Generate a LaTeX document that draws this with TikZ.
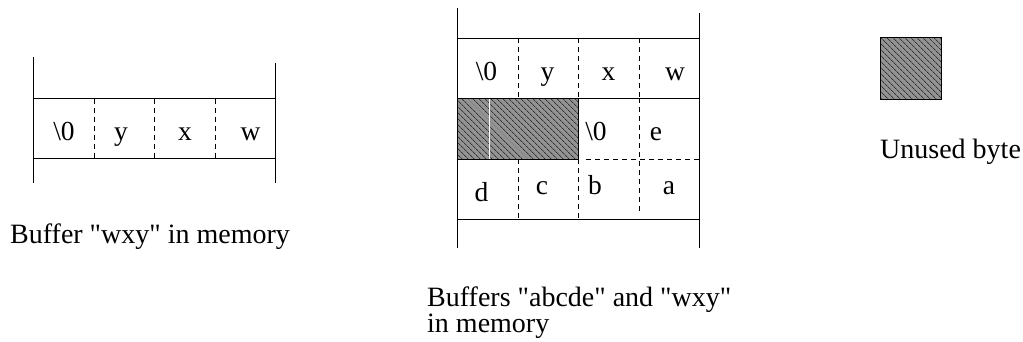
\documentclass[tikz,border=0pt]{standalone}
\usepackage{fontspec}
\setmainfont{Liberation Serif}
\usetikzlibrary{patterns.meta}
\newcommand{\qt}{\textquotedbl}
\begin{document}
\begin{tikzpicture}[x=1pt,y=-1pt,
  wall/.style={line width=0.8pt},
  sep/.style={line width=0.7pt, dash pattern=on 5pt off 4pt},
  cell/.style={font=\fontsize{27.5}{27.5}\selectfont, inner sep=0pt, anchor=base},
  caption/.style={font=\fontsize{28}{26}\selectfont, inner sep=0pt, anchor=base west, align=left},
  unused/.style={fill=gray!85, draw=black, line width=0.6pt,
    postaction={pattern={Lines[angle=-45,distance=4pt,line width=0.6pt]}}}]
\useasboundingbox (0,0) rectangle (1023,342);

% single buffer "wxy"
\draw[wall] (33.5,57) -- (33.5,183);
\draw[wall] (275.5,63) -- (275.5,183);
\draw[wall] (33.5,98.7) -- (275.5,98.7);
\draw[wall] (33.5,158.7) -- (275.5,158.7);
\draw[sep] (94.3,98.7) -- (94.3,158.7);
\draw[sep] (154.7,98.7) -- (154.7,158.7);
\draw[sep] (215,98.7) -- (215,158.7);
\node[cell] (la) at (64,140.5) {\textbackslash 0};
\node[cell] (lb) at (121,140.5) {y};
\node[cell] (lc) at (185,140.5) {x};
\node[cell] (ld) at (250.5,140.5) {w};
\node[caption] (lcap) at (10,243) {Buffer \qt wxy\qt\ in memory};

% two buffers "abcde" and "wxy"
\draw[unused] (457.3,98.3) rectangle (578.3,159);
\draw[white, line width=0.8pt] (489.3,98.3) -- (489.3,159);
\draw[wall] (457.3,8) -- (457.3,248);
\draw[wall] (699,13) -- (699,248);
\draw[wall] (457.3,38.3) -- (699,38.3);
\draw[wall] (457.3,98.3) -- (699,98.3);
\draw[wall] (457.3,219.3) -- (699,219.3);
\draw[sep] (518,38.3) -- (518,98.3);
\draw[sep] (578.3,38.3) -- (578.3,98.3);
\draw[sep] (639,38.3) -- (639,98.3);
\draw[sep] (639,98.3) -- (639,212);
\draw[sep] (586,159) -- (699,159);
\draw[sep] (518,159) -- (518,219.3);
\draw[sep] (578.3,159) -- (578.3,219.3);
\node[cell] (ra) at (486.5,81) {\textbackslash 0};
\node[cell] (rb) at (547.5,81) {y};
\node[cell] (rc) at (608.5,81) {x};
\node[cell] (rd) at (675,81) {w};
\node[cell] (re) at (596,140.5) {\textbackslash 0};
\node[cell] (rf) at (656,140.5) {e};
\node[cell] (rg) at (481.5,201.5) {d};
\node[cell] (rh) at (542,194) {c};
\node[cell] (ri) at (595,194) {b};
\node[cell] (rj) at (669,194.5) {a};
% the base anchor of this two-line node sits on its last line
\node[caption] (rcap) at (427,332) {Buffers \qt abcde\qt\ and \qt wxy\qt\\in memory};

% legend
\draw[unused] (880.7,37.7) rectangle (941,99);
\node[caption] (key) at (880,159) {Unused byte};
\end{tikzpicture}
\end{document}
